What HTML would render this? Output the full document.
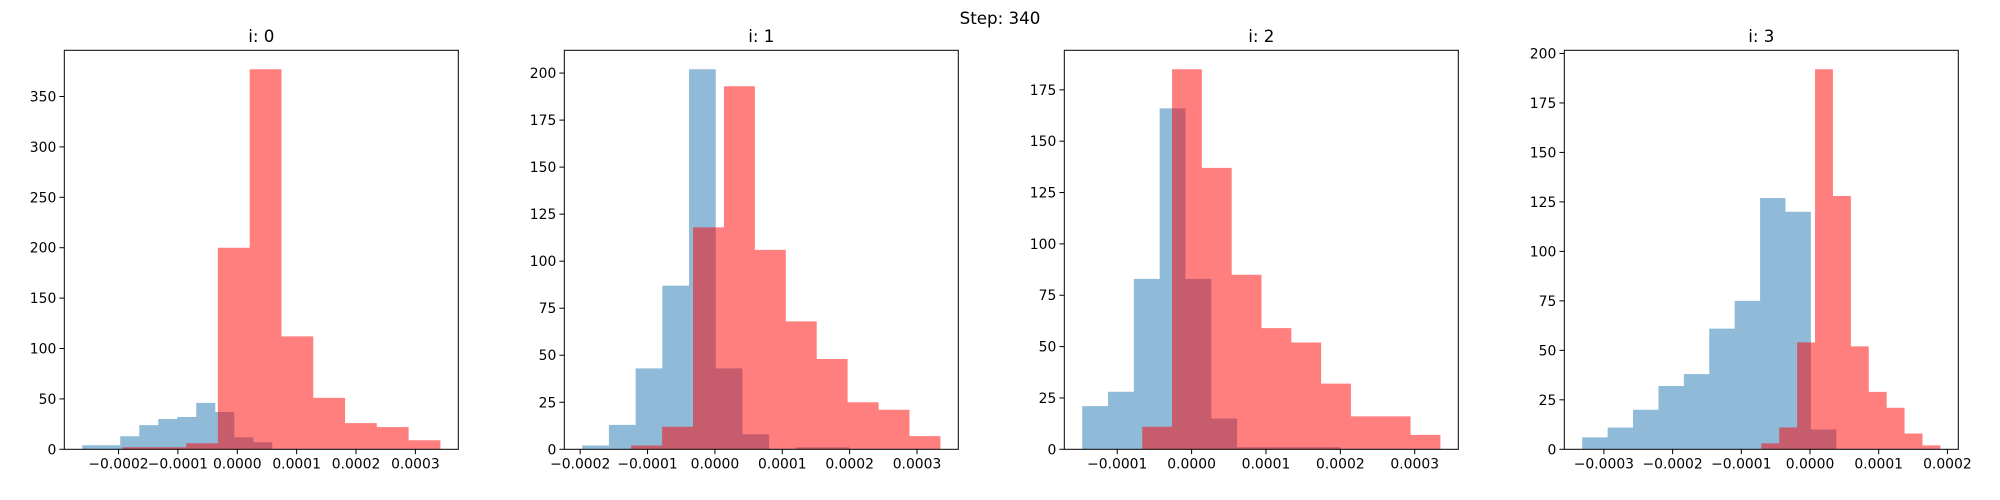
<!DOCTYPE html>
<html><head><meta charset="utf-8"><style>
html,body{margin:0;padding:0;background:#fff;}
svg{display:block;font-family:"DejaVu Sans","Liberation Sans",sans-serif;}
</style></head><body>
<svg id="fig" width="2000" height="500" xmlns="http://www.w3.org/2000/svg">
<text x="1000" y="24" font-size="16.7" text-anchor="middle">Step: 340</text>
</svg>
<script>
// data per panel (values in units of 1e-4)
const panelTitles = ["i: 0", "i: 1", "i: 2", "i: 3"];
const blueRange0 = [-2.612, 0.59];
const blueCounts0 = [4,4,13,24,30,32,46,37,12,7];
const redRange0 = [-1.933, 3.421];
const redCounts0 = [2,2,6,200,377,112,51,26,22,9];
const blueRange1 = [-1.970, 1.995];
const blueCounts1 = [2,13,43,87,202,43,8,0,1,1];
const redRange1 = [-1.243, 3.347];
const redCounts1 = [2,12,118,193,106,68,48,25,21,7];
const blueRange2 = [-1.471, 2.0];
const blueCounts2 = [21,28,83,166,83,15,1,1,1,1];
const redRange2 = [-0.664, 3.345];
const redCounts2 = [11,185,137,85,59,52,32,16,16,7];
const blueRange3 = [-3.316, 0.383];
const blueCounts3 = [6,11,20,32,38,61,75,127,120,10];
const redRange3 = [-0.709, 1.898];
const redCounts3 = [3,11,54,192,128,52,29,21,8,2];
const yTickStep = [50, 25, 25, 25];

const panels = [
 [blueRange0, blueCounts0, redRange0, redCounts0],
 [blueRange1, blueCounts1, redRange1, redCounts1],
 [blueRange2, blueCounts2, redRange2, redCounts2],
 [blueRange3, blueCounts3, redRange3, redCounts3]
];
const NS = "http://www.w3.org/2000/svg";
const svg = document.getElementById('fig');
function mk(tag, attrs, parent){const e=document.createElementNS(NS,tag);for(const k in attrs)e.setAttribute(k,attrs[k]);parent.appendChild(e);return e;}

panels.forEach((p, pi) => {
  const [br, bc, rr, rc] = p;
  const L = 500*pi + 64.3, T = 50.3, W = 394, H = 399;
  const g = mk('g', {}, svg);
  
  
  const xmin0 = Math.min(br[0], rr[0]), xmax0 = Math.max(br[1], rr[1]);
  const m = (xmax0 - xmin0) * 0.05;
  const xmin = xmin0 - m, xmax = xmax0 + m;
  const ymax = Math.max(...bc, ...rc) * 1.05;
  const X = v => L + (v - xmin) / (xmax - xmin) * W;
  const Y = c => T + H - c / ymax * H;
  function drawHist(range, counts, color, name){
    const n = counts.length, w = (range[1]-range[0]) / n;
    let d = 'M' + X(range[0]) + ',' + Y(0);
    counts.forEach((c, i) => {
      const x0 = X(range[0] + i*w), x1 = X(range[0] + (i+1)*w);
      d += ' L' + x0 + ',' + Y(c) + ' L' + x1 + ',' + Y(c);
    });
    d += ' L' + X(range[1]) + ',' + Y(0) + ' Z';
    const path = mk('path', {d:d, fill:color, 'fill-opacity':0.5, stroke:'none'}, g);
    
    
  }
  drawHist(br, bc, '#1f77b4', 'blue');
  drawHist(rr, rc, '#ff0000', 'red');
  const frame = mk('rect', {x:L, y:T, width:W, height:H, fill:'none', stroke:'#000', 'stroke-width':1}, g);
  
  
  const t = mk('text', {x:L+W/2, y:42, 'font-size':16.7, 'text-anchor':'middle'}, g);
  t.textContent = panelTitles[pi];
  
  
  for (let k = Math.ceil(xmin); k <= Math.floor(xmax); k++) {
    const x = X(k);
    mk('line', {x1:x, x2:x, y1:T+H, y2:T+H+4.9, stroke:'#000', 'stroke-width':1}, g);
    const lab = mk('text', {x:x, y:T+H+19, 'font-size':13.9, 'text-anchor':'middle'}, g);
    lab.textContent = (k<0?'\u2212':'') + (Math.abs(k)/10000).toFixed(4);
    
    
  }
  const st = yTickStep[pi];
  for (let c = 0; c <= ymax; c += st) {
    const y = Y(c);
    mk('line', {x1:L-4.9, x2:L, y1:y, y2:y, stroke:'#000', 'stroke-width':1}, g);
    const lab = mk('text', {x:L-8, y:y+5, 'font-size':13.9, 'text-anchor':'end'}, g);
    lab.textContent = String(c);
    
    
  }
});
</script>
</body></html>
